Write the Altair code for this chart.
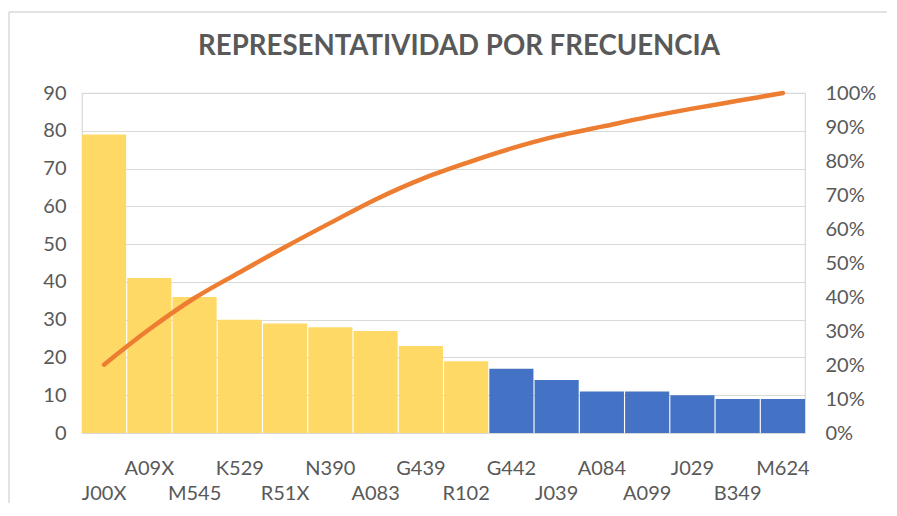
import altair as alt
import pandas as pd

codes = ["J00X", "A09X", "M545", "K529", "R51X", "N390", "A083", "G439", "R102",
         "G442", "J039", "A084", "A099", "J029", "B349", "M624"]
freq = [79, 41, 36, 30, 29, 28, 27, 23, 19, 17, 14, 11, 11, 10, 9, 9]
cum_pct = [0.201, 0.305, 0.397, 0.473, 0.547, 0.618, 0.687, 0.746, 0.794,
           0.837, 0.873, 0.901, 0.929, 0.954, 0.977, 1.0]
group = ["A"] * 9 + ["B"] * 7
label_row = ["low", "up"] * 8
title_text = ["REPRESENTATIVIDAD POR FRECUENCIA"]

df = pd.DataFrame({"code": codes, "freq": freq, "cum": cum_pct,
                   "group": group, "row": label_row})
tdf = pd.DataFrame({"t": title_text})

FONT = "Lato"
GRAY = "#595959"
GRID = "#D9D9D9"

xscale = alt.Scale(paddingInner=0.025, paddingOuter=0)

def X(**kw):
    return alt.X("code:N", sort=codes, scale=xscale, axis=None, **kw)

bars = alt.Chart(df).mark_bar().encode(
    x=X(),
    y=alt.Y("freq:Q", scale=alt.Scale(domain=[0, 90], nice=False),
            axis=alt.Axis(values=list(range(0, 91, 10)), title=None, domain=False,
                          ticks=False, grid=True, gridColor=GRID, gridWidth=1.2,
                          labelFont=FONT, labelFontSize=20, labelColor=GRAY,
                          labelPadding=16)),
    color=alt.Color("group:N", scale=alt.Scale(domain=["A", "B"],
                                               range=["#FFD966", "#4472C4"]),
                    legend=None),
)

line = alt.Chart(df).mark_line(color="#ED7D31", strokeWidth=4.5, strokeCap="round",
                               interpolate="monotone").encode(
    x=X(bandPosition=0.5),
    y=alt.Y("cum:Q", scale=alt.Scale(domain=[0, 1], nice=False),
            axis=alt.Axis(orient="right", format="%", values=[i / 10 for i in range(11)],
                          title=None, domain=False, ticks=False, grid=False,
                          labelFont=FONT, labelFontSize=20, labelColor=GRAY,
                          labelPadding=20)),
)

labels_up = alt.Chart(df).transform_filter(alt.datum.row == "up").mark_text(
    font=FONT, fontSize=20, color=GRAY, baseline="alphabetic", align="center"
).encode(x=X(bandPosition=0.5), y=alt.value(382), text="code:N")

labels_low = alt.Chart(df).transform_filter(alt.datum.row == "low").mark_text(
    font=FONT, fontSize=20, color=GRAY, baseline="alphabetic", align="center"
).encode(x=X(bandPosition=0.5), y=alt.value(407), text="code:N")

title = alt.Chart(tdf).mark_text(
    font=FONT, fontSize=27.6, fontWeight="bold", color=GRAY,
    baseline="middle", align="center"
).encode(x=alt.value(377), y=alt.value(-46), text="t:N")

frame_top = alt.Chart(tdf).mark_rule(color=GRID, strokeWidth=1.5).encode(
    x=alt.value(-73), x2=alt.value(830), y=alt.value(-81))
frame_left = alt.Chart(tdf).mark_rule(color=GRID, strokeWidth=1.5).encode(
    x=alt.value(-73), y=alt.value(-81), y2=alt.value(410))

chart = alt.layer(
    frame_top, frame_left, bars, line, labels_up, labels_low, title
).resolve_scale(y="independent").properties(
    width=723, height=340,
    autosize=alt.AutoSizeParams(type="none"),
    padding={"left": 74, "top": 85, "right": 82, "bottom": 70},
).configure_view(stroke=GRID, strokeWidth=1.2)

chart.save("out.html", embed_options={"renderer": "svg", "actions": False})
